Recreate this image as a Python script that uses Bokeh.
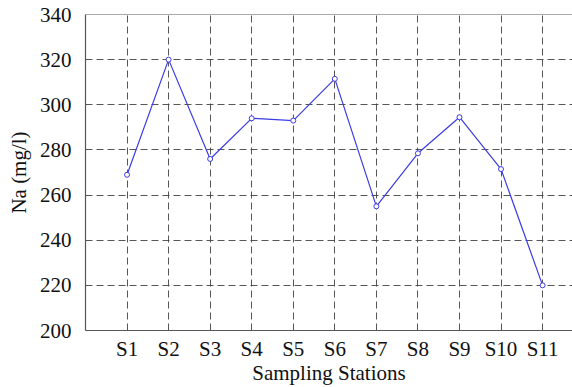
from bokeh.plotting import figure
from bokeh.models import Range1d, FixedTicker, Span
from bokeh.embed import file_html
from bokeh.resources import INLINE

# Sodium concentration at each sampling station
stations = ["S1", "S2", "S3", "S4", "S5", "S6", "S7", "S8", "S9", "S10", "S11"]
na_mg_l = [269, 320, 276, 294, 293, 311.5, 255, 278.5, 294.5, 271.5, 220]
y_ticks = [200, 220, 240, 260, 280, 300, 320, 340]

xs = list(range(1, len(stations) + 1))

p = figure(width=572, height=387, output_backend="svg", toolbar_location=None,
           x_range=Range1d(0, 11.72), y_range=Range1d(200, 340),
           min_border_left=85, min_border_right=0, min_border_top=14, min_border_bottom=50)
p.outline_line_color = None
p.background_fill_color = "white"

serif = "Liberation Serif"

# frame top edge
p.add_layout(Span(location=340, dimension="width", line_color="#555555", line_width=1.2))

grid_style = dict(grid_line_color="#444444", grid_line_dash="7 4", grid_line_width=1, grid_line_alpha=0.9)
for g in (p.xgrid, p.ygrid):
    for k, v in grid_style.items():
        setattr(g, k, v)

p.xaxis.ticker = FixedTicker(ticks=xs)
p.xaxis.major_label_overrides = {x: s for x, s in zip(xs, stations)}
p.yaxis.ticker = FixedTicker(ticks=y_ticks)

for ax in (p.xaxis[0], p.yaxis[0]):
    ax.axis_line_color = "#555555"
    ax.axis_line_width = 1.2
    ax.major_tick_line_color = None
    ax.minor_tick_line_color = None
    ax.major_label_text_font = serif
    ax.major_label_text_font_size = "21px"
    ax.major_label_text_color = "#111111"
    ax.axis_label_text_font = serif
    ax.axis_label_text_font_size = "21px"
    ax.axis_label_text_font_style = "normal"
    ax.axis_label_text_color = "#111111"

p.xaxis.axis_label = "Sampling Stations"
p.yaxis.axis_label = "Na (mg/l)"
p.xaxis.major_label_standoff = 0
p.xaxis.axis_label_standoff = -3
p.yaxis.major_label_standoff = 8
p.yaxis.axis_label_standoff = 6

p.line(xs, na_mg_l, line_color="#3b3be6", line_width=1.2)
p.scatter(xs, na_mg_l, marker="circle", size=5, line_color="#3b3be6",
          fill_color="white", line_width=1)

open("out.html", "w").write(file_html(p, INLINE))
